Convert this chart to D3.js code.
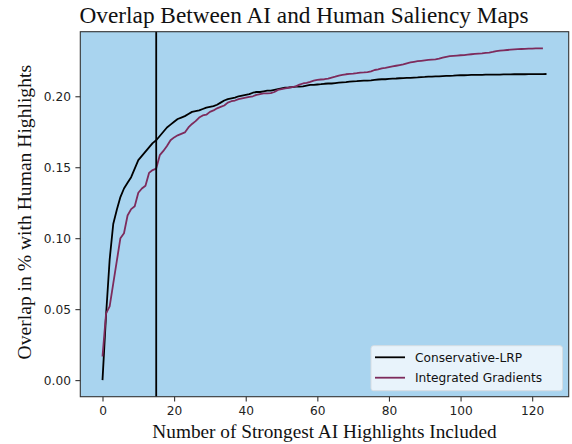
<!DOCTYPE html>
<html><head><meta charset="utf-8">
<script src="https://cdn.jsdelivr.net/npm/d3@7"></script>
<style>body{margin:0;background:#fff}svg{display:block}</style>
</head><body>
<script>
const title = "Overlap Between AI and Human Saliency Maps";
const xLabel = "Number of Strongest AI Highlights Included";
const yLabel = "Overlap in % with Human Highlights";
const seriesNames = ["Conservative-LRP", "Integrated Gradients"];
const xTicks = [0, 20, 40, 60, 80, 100, 120];
const yTicks = [0.00, 0.05, 0.10, 0.15, 0.20];
const markerX = 15;
const lrp = [0.000,0.046,0.085,0.110,0.120,0.129,0.135,0.139,0.143,0.149,
0.155,0.158,0.161,0.164,0.167,0.169,0.172,0.175,0.178,0.180,
0.182,0.184,0.185,0.186,0.1875,0.189,0.1895,0.190,0.191,0.192,
0.1925,0.193,0.194,0.1955,0.197,0.198,0.1985,0.199,0.200,0.2005,
0.201,0.2015,0.2025,0.203,0.203,0.2035,0.204,0.204,0.2045,0.205,
0.2055,0.206,0.2062,0.2065,0.2068,0.2068,0.207,0.2075,0.208,0.208,
0.2083,0.2085,0.2088,0.209,0.209,0.2093,0.2096,0.2098,0.210,0.2103,
0.2105,0.2106,0.2108,0.211,0.211,0.2112,0.2115,0.2118,0.212,0.212,
0.2122,0.2124,0.2125,0.2127,0.2128,0.213,0.213,0.2132,0.2133,0.2135,
0.2136,0.2138,0.2139,0.214,0.214,0.2142,0.2143,0.2144,0.2145,0.2147,
0.2148,0.2148,0.2149,0.215,0.215,0.215,0.2151,0.2152,0.2152,0.2153,
0.2153,0.2153,0.2154,0.2154,0.2154,0.2155,0.2155,0.2155,0.2155,0.2156,
0.2156,0.2156,0.2156,0.2156,0.2157];
const ig = [0.0166,0.047,0.052,0.068,0.084,0.100,0.1035,0.116,0.1205,0.1225,
0.132,0.135,0.137,0.146,0.148,0.149,0.1585,0.1615,0.165,0.169,
0.171,0.1725,0.1735,0.1745,0.178,0.1805,0.1825,0.185,0.1865,0.187,
0.189,0.190,0.1915,0.1925,0.1935,0.1955,0.1965,0.197,0.198,0.1985,
0.199,0.1995,0.200,0.201,0.2015,0.202,0.202,0.2022,0.203,0.2045,
0.205,0.2055,0.206,0.2065,0.207,0.2082,0.209,0.2095,0.2102,0.211,
0.2115,0.2118,0.212,0.2125,0.2132,0.2138,0.2145,0.215,0.2155,0.2158,
0.216,0.2163,0.2167,0.2168,0.217,0.2175,0.2185,0.219,0.2197,0.220,
0.2205,0.221,0.2215,0.222,0.2225,0.2232,0.2238,0.2243,0.2247,0.225,
0.2253,0.2256,0.2258,0.226,0.2265,0.2272,0.2278,0.2283,0.2285,0.2287,
0.2289,0.229,0.2293,0.2296,0.2298,0.23,0.2302,0.2305,0.2307,0.2312,
0.2318,0.2322,0.2324,0.2326,0.2328,0.233,0.2332,0.2333,0.2334,0.2335,
0.2336,0.2337,0.2338,0.2338];
const colors = ["#000000", "#7d2b5c"];

const W = 572, H = 444;
const m = {left: 80.3, right: 572 - 568.7, top: 31.7, bottom: 444 - 396.7};
const svg = d3.select("body").append("svg").attr("width", W).attr("height", H);

const xMax = Math.max(lrp.length, ig.length) - 1;
const allY = lrp.concat(ig);
const yMin = d3.min(allY), yMaxV = d3.max(allY);
const xPad = xMax * 0.05, yPad = (yMaxV - yMin) * 0.05;
const x = d3.scaleLinear().domain([0 - xPad, xMax + xPad]).range([m.left, W - m.right]);
const y = d3.scaleLinear().domain([yMin - yPad, yMaxV + yPad]).range([H - m.bottom, m.top]);

svg.append("rect").attr("x", m.left).attr("y", m.top)
  .attr("width", W - m.right - m.left).attr("height", H - m.bottom - m.top)
  .attr("fill", "#a9d4ef");

const line = d3.line().x((d, i) => x(i)).y(d => y(d));
const g = svg.append("g");
[lrp, ig].forEach((s, k) => {
  g.append("path").datum(s).attr("d", line).attr("fill", "none")
    .attr("stroke", colors[k]).attr("stroke-width", 1.8).attr("stroke-linejoin", "round");
});
g.append("line").attr("x1", x(markerX)).attr("x2", x(markerX))
  .attr("y1", m.top).attr("y2", H - m.bottom)
  .attr("stroke", "#000").attr("stroke-width", 1.8);

// spines
svg.append("rect").attr("x", m.left).attr("y", m.top)
  .attr("width", W - m.right - m.left).attr("height", H - m.bottom - m.top)
  .attr("fill", "none").attr("stroke", "#333").attr("stroke-width", 1.1);

const tickFont = "DejaVu Sans, sans-serif";
const xAxis = svg.append("g").attr("transform", `translate(0,${H - m.bottom})`)
  .call(d3.axisBottom(x).tickValues(xTicks).tickFormat(d3.format("d")).tickSize(4.9).tickPadding(4.5));
const yAxis = svg.append("g").attr("transform", `translate(${m.left},0)`)
  .call(d3.axisLeft(y).tickValues(yTicks).tickFormat(d3.format(".2f")).tickSize(4.9).tickPadding(4.5));
[xAxis, yAxis].forEach(a => {
  a.select(".domain").remove();
  a.selectAll(".tick line").attr("stroke", "#333").attr("stroke-width", 1.1);
  a.selectAll(".tick text").attr("font-family", tickFont).attr("font-size", 12.2).attr("fill", "#222");
});

svg.append("text").attr("x", 304).attr("y", 23)
  .attr("text-anchor", "middle").attr("font-family", "Liberation Serif, serif")
  .attr("font-size", 23.3).attr("fill", "#111").text(title);
svg.append("text").attr("x", (m.left + W - m.right) / 2).attr("y", 437.5)
  .attr("text-anchor", "middle").attr("font-family", "Liberation Serif, serif")
  .attr("font-size", 19.3).attr("fill", "#111").text(xLabel);
svg.append("text").attr("transform", `translate(31,${(m.top + H - m.bottom) / 2 - 2}) rotate(-90)`)
  .attr("text-anchor", "middle").attr("font-family", "Liberation Serif, serif")
  .attr("font-size", 19.6).attr("fill", "#111").text(yLabel);

// legend
const lg = svg.append("g");
lg.append("rect").attr("x", 371).attr("y", 345.7).attr("width", 191.5).attr("height", 45)
  .attr("rx", 2.5).attr("fill", "#eef5fc").attr("fill-opacity", 0.92)
  .attr("stroke", "#d5dde3").attr("stroke-width", 1);
seriesNames.forEach((n, k) => {
  const yy = 357.3 + k * 20.4;
  lg.append("line").attr("x1", 375).attr("x2", 405).attr("y1", yy).attr("y2", yy)
    .attr("stroke", colors[k]).attr("stroke-width", 1.8);
  lg.append("text").attr("x", 415).attr("y", yy).attr("dy", "0.36em")
    .attr("font-family", tickFont).attr("font-size", 12.2).attr("fill", "#111").text(n);
});
</script>
</body></html>
